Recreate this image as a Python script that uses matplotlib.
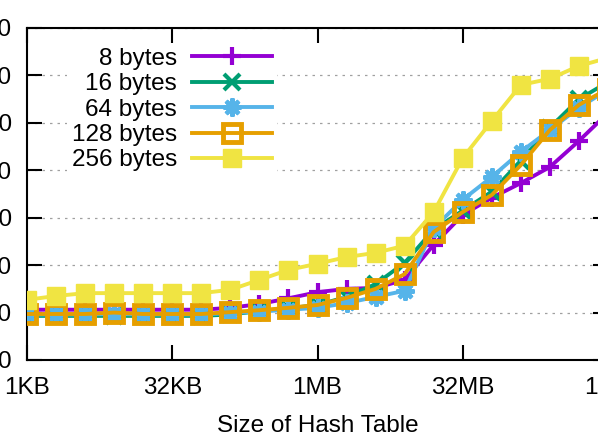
import matplotlib
matplotlib.use("Agg")
import matplotlib.pyplot as plt

plt.rcParams["font.family"] = ["Liberation Sans", "DejaVu Sans"]

# table size in KB: 1KB .. 1GB, one point per power of two
sizes_kb = [2 ** k for k in range(21)]

series_labels = ["8 bytes", "16 bytes", "64 bytes", "128 bytes", "256 bytes"]
vals_8 = [10.6, 10.6, 10.6, 10.6, 10.6, 10.6, 10.6, 11.0, 11.8, 13.0, 14.3,
          15.0, 15.2, 16.9, 24.3, 30.6, 34.2, 37.3, 40.7, 46.2, 52.1]
vals_16 = [9.3, 9.3, 9.3, 9.3, 9.3, 9.3, 9.3, 9.6, 10.3, 10.9, 11.6,
           13.3, 16.0, 20.5, 27.5, 31.5, 35.5, 42.0, 49.0, 55.0, 58.6]
vals_64 = [9.6, 9.6, 9.6, 9.7, 9.6, 9.6, 9.6, 9.9, 10.2, 10.6, 11.0,
           12.0, 13.3, 14.6, 27.8, 33.8, 38.6, 43.9, 48.5, 53.2, 57.0]
vals_128 = [9.7, 9.7, 9.7, 10.0, 9.7, 9.7, 9.7, 10.1, 10.5, 11.0, 11.6,
            13.1, 15.0, 18.1, 27.0, 31.2, 34.8, 41.1, 48.5, 53.8, 57.2]
vals_256 = [12.7, 13.5, 14.1, 14.1, 14.1, 14.1, 14.1, 14.8, 16.9, 19.0, 20.3,
            21.7, 22.6, 24.1, 31.2, 42.6, 50.4, 58.0, 59.3, 62.0, 63.7]

xtick_pos = [1, 32, 1024, 32768, 1048576]
xtick_labels = ["1KB", "32KB", "1MB", "32MB", "1GB"]
ytick_pos = [0, 10, 20, 30, 40, 50, 60, 70]

fig = plt.figure(figsize=(5.98, 4.42), dpi=100)
# axes run a bit past the right edge, like the cropped original
ax = fig.add_axes([27 / 598, 82 / 442, 581 / 598, 332 / 442])

lw = 2.8
ax.plot(sizes_kb, vals_8, color="#9400D3", lw=lw, marker="+", ms=13, mew=3,
        label=series_labels[0], zorder=3)
ax.plot(sizes_kb, vals_16, color="#009E73", lw=lw, marker="x", ms=11, mew=3,
        label=series_labels[1], zorder=3)
ax.plot(sizes_kb, vals_64, color="#56B4E9", lw=lw, marker=(8, 2, 0), ms=13, mew=3,
        label=series_labels[2], zorder=3)
ax.plot(sizes_kb, vals_128, color="#E69F00", lw=lw, marker="s", ms=12.5, mew=3.5,
        mfc="none", label=series_labels[3], zorder=3)
ax.plot(sizes_kb, vals_256, color="#F0E442", lw=lw, marker="s", ms=13.5,
        label=series_labels[4], zorder=3)

ax.set_xscale("log", base=2)
ax.set_xlim(1, 1048576)
ax.set_ylim(0, 70)
ax.set_xticks(xtick_pos)
ax.set_xticklabels(xtick_labels)
ax.minorticks_off()
ax.set_yticks(ytick_pos)
ax.set_yticklabels([str(v) for v in ytick_pos])

ax.tick_params(axis="both", which="major", direction="in", length=11, width=1.5,
               top=True, right=True, labelsize=17.5)
ax.tick_params(axis="y", pad=11)
ax.tick_params(axis="x", pad=12)
for sp in ax.spines.values():
    sp.set_linewidth(1.5)

ax.yaxis.grid(True, linestyle=(0, (2, 4)), color="#a0a0a0", lw=0.9)
ax.set_axisbelow(True)

ax.set_xlabel("Size of Hash Table", fontsize=17.5, labelpad=12)

leg = ax.legend(loc="upper right", bbox_to_anchor=(0.43, 0.955), markerfirst=False,
                handlelength=3.3, handletextpad=0.6, labelspacing=0.14,
                borderpad=0.2, borderaxespad=0, fontsize=17.5, frameon=True,
                fancybox=False, framealpha=1)
leg.get_frame().set_edgecolor("white")
leg.get_frame().set_linewidth(0)

fig.savefig("out.png", dpi=100)
